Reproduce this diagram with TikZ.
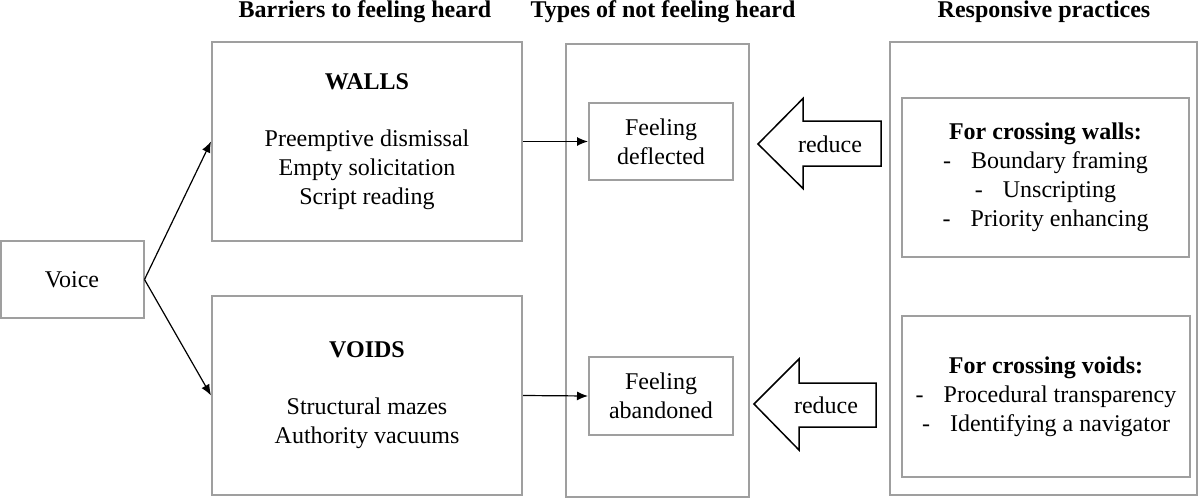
\documentclass[tikz,border=0pt]{standalone}
\usepackage{fontspec}
\setmainfont{Liberation Serif}
\usetikzlibrary{arrows.meta}
\newcommand{\dashln}[1]{-\hspace{10pt}#1}
\begin{document}
\begin{tikzpicture}[x=0.5pt, y=-0.5pt]
	\tikzstyle{Box} = [rectangle, align=center, text centered, draw=gray!75, line width=1pt, inner sep=0pt, font=\fontsize{12}{14.5}\selectfont]
	\tikzstyle{Head} = [anchor=base, font=\fontsize{12}{14.5}\selectfont\bfseries]
	\tikzstyle{Block} = [draw=black, line width=0.75pt, fill=white, line join=miter]
	\tikzstyle{Label} = [font=\fontsize{12}{14.5}\selectfont]
	\tikzstyle{arrow} = [line width=0.6pt, -{Latex[length=5.5pt, width=4.5pt]}]
	
	\useasboundingbox (0,0) rectangle (1200,498);
	% column headings
	\node (hb) [Head] at (365,18) {Barriers to feeling heard};
	\node (ht) [Head] at (663,18) {Types of not feeling heard};
	\node (hr) [Head] at (1044,18) {Responsive practices};
	
	\node (voice) [Box, minimum width=71.5pt, minimum height=38.5pt] at (72,279.5) {Voice};
	\node (walls) [Box, minimum width=155pt, minimum height=99.5pt] at (367,141.5)
		{\textbf{WALLS}\\[14pt] Preemptive dismissal\\ Empty solicitation\\ Script reading};
	\node (voids) [Box, minimum width=155pt, minimum height=99.5pt] at (367,395.5)
		{\textbf{VOIDS}\\[14pt] Structural mazes\\ Authority vacuums};
	
	\node (types) [Box, minimum width=91.5pt, minimum height=226.5pt] at (657.5,270.5) {};
	\node (defl) [Box, minimum width=72pt, minimum height=38.5pt] at (661,141.5) {Feeling\\ deflected};
	\node (aban) [Box, minimum width=72pt, minimum height=39pt] at (661,396) {Feeling\\ abandoned};
	
	\node (prac) [Box, minimum width=153.5pt, minimum height=226.5pt] at (1043.5,268.5) {};
	\node (crossw) [Box, minimum width=143.5pt, minimum height=79.5pt] at (1045.5,177.5)
		{\textbf{For crossing walls:}\\ \dashln{Boundary framing}\\ \dashln{Unscripting}\\ \dashln{Priority enhancing}};
	\node (crossv) [Box, minimum width=144pt, minimum height=80.5pt] at (1046,396.5)
		{\textbf{For crossing voids:}\\ \dashln{Procedural transparency}\\ \dashln{Identifying a navigator}};
	
	\draw [arrow] (voice.east) -- (walls.west);
	\draw [arrow] (voice.east) -- (voids.west);
	\draw [arrow] (walls.east) -- (defl.west);
	\draw [arrow] (voids.east) -- (aban.west);
	
	% reduce arrows
	\draw [Block] (758,144) -- ++(45,-45.5) -- ++(0,22.5) -- ++(78,0) -- ++(0,45) -- ++(-78,0) -- ++(0,22.5) -- cycle;
	\node (red1) [Label] at (830,144) {reduce};
	\draw [Block] (754,404) -- ++(45,-45) -- ++(0,24) -- ++(77,0) -- ++(0,44) -- ++(-77,0) -- ++(0,23) -- cycle;
	\node (red2) [Label] at (826,405) {reduce};
\end{tikzpicture}
\end{document}
